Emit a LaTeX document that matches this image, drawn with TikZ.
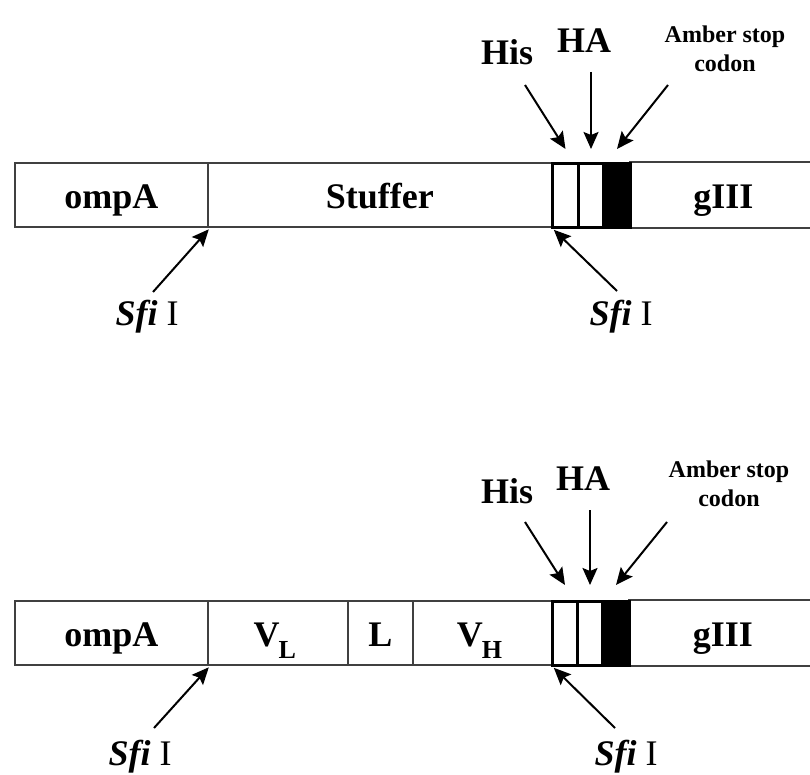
\documentclass[tikz,border=0pt]{standalone}
\usepackage{fontspec}
\setmainfont{Liberation Serif}
\usetikzlibrary{arrows.meta}
\newcommand\segfont{\bfseries\fontsize{36}{40}\selectfont}
\newcommand\smallfont{\bfseries\fontsize{24}{28}\selectfont}
\newcommand\subL[1]{\kern-1pt\raisebox{-12pt}{\bfseries\fontsize{26}{28}\selectfont #1}}
\newcommand\sfiname{\textbf{\textit{Sfi}} {\mdseries I}}
\begin{document}
\begin{tikzpicture}[x=1pt,y=-1pt,
  seg/.style={draw=black!75, line width=1.8pt, minimum height=64pt, inner sep=0pt,
    anchor=north west, text height=28pt, text depth=0pt, font=\segfont},
  openseg/.style={seg, draw=none},
  barline/.style={draw=black!75, line width=1.8pt},
  tagbox/.style={draw=black, line width=3pt, minimum height=64pt, inner sep=0pt, anchor=north west},
  stopbox/.style={tagbox, fill=black},
  lbl/.style={font=\segfont, inner sep=0pt, anchor=base},
  smalllbl/.style={font=\smallfont, inner sep=0pt, anchor=base},
  arr/.style={line width=2pt, -{Stealth[length=17pt,width=15pt,inset=3pt]}}]
\useasboundingbox (0,0) rectangle (810,775);

% ---------- top construct ----------
\node[seg, minimum width=193pt] (ompA1) at (14,162) {ompA};
\node[seg, minimum width=344pt] (stuf1) at (207,162) {Stuffer};
\node[openseg, minimum width=185pt] (g1) at (629,162) {\hspace*{2pt}gIII};
\draw[barline] (g1.north west) -- (g1.north east);
\draw[barline] (g1.south west) -- (g1.south east);
\node[tagbox, minimum width=26pt] (his1) at (551,162) {};
\node[tagbox, minimum width=25pt] (ha1) at (577,162) {};
\node[stopbox, minimum width=27pt] (amb1) at (602,162) {};

\node[lbl] (hisL1) at (507,65) {His};
\node[lbl] (haL1) at (584,53) {HA};
\node[smalllbl] (amberL1) at (725,43) {Amber stop};
\node[smalllbl] (codonL1) at (725,72) {codon};

\coordinate (hs1) at (525,85);
\coordinate (as1) at (591,72);
\coordinate (ms1) at (668,85);
\draw[arr] (hs1) -- ([yshift=13pt]his1.north);
\draw[arr] (as1) -- ([yshift=13pt]ha1.north);
\draw[arr] (ms1) -- ([yshift=13pt]amb1.north);

\node[lbl] (sfiA1) at (147,325) {\sfiname};
\node[lbl] (sfiB1) at (621,325) {\sfiname};
\coordinate (sa1) at (153,292);
\coordinate (sb1) at (617,291);
\draw[arr] (sa1) -- ([yshift=-1.5pt]ompA1.south east);
\draw[arr] (sb1) -- ([xshift=1pt,yshift=-2pt]stuf1.south east);

% ---------- bottom construct ----------
\node[seg, minimum width=193pt] (ompA2) at (14,600) {ompA};
\node[seg, minimum width=140pt] (vl2) at (207,600) {\hspace*{-6pt}V\subL{L}};
\node[seg, minimum width=65pt] (l2) at (347,600) {L};
\node[seg, minimum width=139pt] (vh2) at (412,600) {\hspace*{-6pt}V\subL{H}};
\node[openseg, minimum width=186pt] (g2) at (628,600) {\hspace*{2pt}gIII};
\draw[barline] (g2.north west) -- (g2.north east);
\draw[barline] (g2.south west) -- (g2.south east);
\node[tagbox, minimum width=25pt] (his2) at (551,600) {};
\node[tagbox, minimum width=25pt] (ha2) at (576,600) {};
\node[stopbox, minimum width=27pt] (amb2) at (601,600) {};

\node[lbl] (hisL2) at (507,503) {His};
\node[lbl] (haL2) at (583,490) {HA};
\node[smalllbl] (amberL2) at (729,477) {Amber stop};
\node[smalllbl] (codonL2) at (729,506) {codon};

\coordinate (hs2) at (525,522);
\coordinate (as2) at (590,510);
\coordinate (ms2) at (667,522);
\draw[arr] (hs2) -- ([yshift=15pt]his2.north);
\draw[arr] (as2) -- ([yshift=15pt]ha2.north);
\draw[arr] (ms2) -- ([yshift=15pt]amb2.north);

\node[lbl] (sfiA2) at (140,765) {\sfiname};
\node[lbl] (sfiB2) at (626,765) {\sfiname};
\coordinate (sa2) at (154,728);
\coordinate (sb2) at (615,728);
\draw[arr] (sa2) -- ([yshift=-1.5pt]ompA2.south east);
\draw[arr] (sb2) -- ([xshift=1pt,yshift=-2pt]vh2.south east);
\end{tikzpicture}
\end{document}
